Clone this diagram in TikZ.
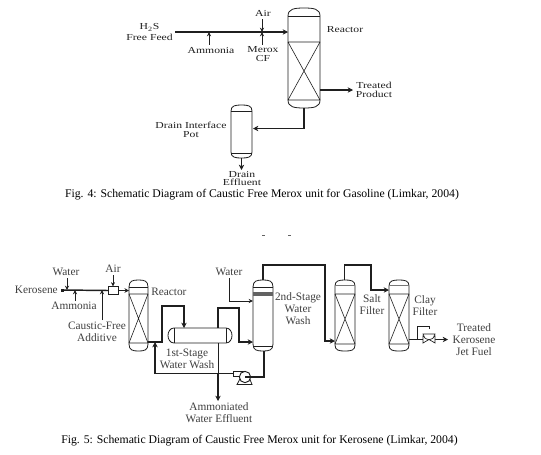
\documentclass[tikz,border=0pt]{standalone}
\usepackage{fontspec}
\setmainfont{Liberation Serif}
\newfontfamily\wideserif[FakeStretch=1.27]{Liberation Serif}
\usetikzlibrary{arrows.meta}
\definecolor{ink}{gray}{0.12}
\tikzset{
  thin line/.style={draw=ink,line width=0.45pt},
  pipe/.style={draw=ink,line width=1.1pt},
  feedarrow/.style={draw=ink,line width=0.7pt,-{Stealth[length=3.2pt,width=3pt]}},
  pipearrow/.style={draw=ink,line width=1.1pt,-{Stealth[length=4pt,width=4pt]}},
  lab/.style={inner sep=0pt,align=center,text=ink,font=\wideserif\fontsize{6.9pt}{6.6pt}\selectfont},
  labw/.style={inner sep=0pt,align=center,text=ink!85,font=\fontsize{8.5pt}{9pt}\selectfont},
  captext/.style={inner sep=0pt,text=black,font=\fontsize{8.8pt}{10pt}\selectfont},
}
% vessel: left x, right x, top y, bottom y, head depth
\newcommand{\vesselshape}[5]{%
  \draw[thin line,line width=0.6pt] (#1,#3+#5) .. controls (#1,#3+0.1*#5) and (#1+0.2*#2-0.2*#1,#3) .. (0.5*#1+0.5*#2,#3)
    .. controls (#2-0.2*#2+0.2*#1,#3) and (#2,#3+0.1*#5) .. (#2,#3+#5) -- (#2,#4-#5)
    .. controls (#2,#4-0.1*#5) and (#2-0.2*#2+0.2*#1,#4) .. (0.5*#1+0.5*#2,#4)
    .. controls (#1+0.2*#2-0.2*#1,#4) and (#1,#4-0.1*#5) .. (#1,#4-#5) -- cycle;
}
% packed bed with cross
\newcommand{\bedshape}[4]{%
  \draw[thin line] (#1,#3) -- (#2,#3) (#1,#4) -- (#2,#4) (#1,#3) -- (#2,#4) (#2,#3) -- (#1,#4);
}
\begin{document}
\begin{tikzpicture}[x=0.75pt,y=-0.75pt]
\useasboundingbox (0,0) rectangle (541,454);
\fill[white] (0,0) rectangle (541,454);

% ===== Fig. 4 =====
\vesselshape{288}{320}{8}{108}{8}
\draw[thin line] (288,16) -- (320,16);
\bedshape{288}{320}{42}{100}
\vesselshape{231}{252}{105}{158}{6}
\draw[thin line] (231,111) -- (252,111) (231,153) -- (252,153);
\coordinate (f4a) at (175,32);
\coordinate (f4b) at (288,32);
\draw[pipearrow] (f4a) -- (f4b);
\coordinate (amm4) at (209,44.5);
\coordinate (amm4e) at (209,32);
\draw[feedarrow] (amm4) -- (amm4e);
\coordinate (air4) at (262,19);
\coordinate (air4e) at (262,32);
\draw[feedarrow] (air4) -- (air4e);
\coordinate (mer4) at (262,44.5);
\draw[feedarrow] (mer4) -- (air4e);
\coordinate (tr4a) at (320,90);
\coordinate (tr4b) at (353,90);
\draw[pipearrow] (tr4a) -- (tr4b);
\coordinate (ra4) at (304,108);
\coordinate (ra4b) at (253,128.5);
\draw[pipearrow] (ra4) |- (ra4b);
\coordinate (d4a) at (241.5,158);
\coordinate (d4b) at (241.5,170);
\draw[pipearrow] (d4a) -- (d4b);

\node[lab,anchor=east] (t1) at (173,32) {H\textsubscript{2}S\\[1.2pt]Free Feed};
\node[lab] (t2) at (211,50) {Ammonia};
\node[lab] (t3) at (263,13.5) {Air};
\node[lab] (t4) at (263,54) {Merox\\CF};
\node[lab] (t5) at (345,30) {Reactor};
\node[lab] (t6) at (374,90) {Treated\\Product};
\node[lab] (t7) at (191,129.5) {Drain Interface\\Pot};
\node[lab] (t8) at (242,178.5) {Drain\\Effluent};
\node[captext] (c4) at (262,195) {Fig. 4: Schematic Diagram of Caustic Free Merox unit for Gasoline (Limkar, 2004)};

% ===== stray marks =====
\draw[draw=ink!70,line width=0.4pt] (262,235) -- (265,235) (288,235) -- (291,235);

% ===== Fig. 5 =====
% reactor
\vesselshape{129}{148}{280}{351}{7}
\draw[thin line] (129,287) -- (148,287);
\bedshape{129}{148}{294}{343}
% drum
\draw[thin line,line width=0.6pt] (174,328) -- (226,328) .. controls (230,328) and (232,332) .. (232,335.5)
  .. controls (232,339) and (230,343) .. (226,343) -- (174,343)
  .. controls (170,343) and (168,339) .. (168,335.5) .. controls (168,332) and (170,328) .. (174,328) -- cycle;
\draw[thin line] (174,328) -- (174,343) (226,328) -- (226,343);
% tower
\vesselshape{253}{273}{280}{351}{7}
\draw[thin line] (253,287) -- (273,287) (253,346) -- (273,346);
\fill[ink!70] (253,291.5) rectangle (273,295.5);
% salt
\vesselshape{335}{355}{280}{351}{6}
\draw[thin line,draw=ink!60] (335,285.5) -- (355,285.5);
\bedshape{335}{355}{294}{344}
% clay
\vesselshape{389}{409}{280}{351}{6}
\draw[thin line,draw=ink!60] (389,285.5) -- (409,285.5);
\bedshape{389}{409}{294}{344}
% mixer box
\node[draw=ink,fill=white,line width=0.6pt,minimum width=7pt,minimum height=5.5pt,inner sep=0pt] (mix) at (113.5,290.5) {};
% feed
\coordinate (k0) at (62,290);
\draw[pipe] (k0) -- (mix.west);
\fill[ink] (61,288.5) rectangle (63.5,291.5);
\coordinate (r5in) at (129,290.5);
\draw[draw=ink,line width=0.8pt,-{Stealth[length=3.4pt,width=3.4pt]}] (mix.east) -- (r5in);
\coordinate (w5) at (67,278);
\coordinate (w5e) at (67,290);
\draw[feedarrow] (w5) -- (w5e);
\coordinate (am5) at (75,301);
\coordinate (am5e) at (75,290);
\draw[feedarrow] (am5) -- (am5e);
\coordinate (cf5) at (102,320);
\coordinate (cf5e) at (102,290);
\draw[feedarrow] (cf5) -- (cf5e);
\coordinate (air5) at (113,275);
\draw[feedarrow] (air5) -- (mix.north -| air5);
% reactor to drum
\coordinate (r5o) at (148,342);
\coordinate (p1) at (162,342);
\coordinate (p2) at (162,306);
\coordinate (p3) at (184,306);
\coordinate (p4) at (184,328);
\draw[pipearrow] (r5o) -- (p1) -- (p2) -- (p3) -- (p4);
% drum to tower
\coordinate (e1) at (218,328);
\coordinate (e2) at (218,308);
\coordinate (e3) at (239,308);
\coordinate (e4) at (239,342);
\coordinate (e5) at (253,342);
\draw[pipearrow] (e1) -- (e2) -- (e3) -- (e4) -- (e5);
% effluent
\coordinate (a1) at (218,343);
\coordinate (a2) at (218,374);
\coordinate (a3) at (218,401);
\draw[draw=ink,line width=0.6pt] (a1) -- (a2);
\draw[pipearrow] (a2) -- (a3);
% pump
\draw[draw=ink,line width=0.6pt,fill=white] (237,384.5) -- (241,377) -- (249,377) -- (252,384.5) -- cycle;
\draw[draw=ink,line width=0.6pt,fill=white] (233,371.5) -- (245,371.5) -- (245,376) -- (233,376) -- cycle;
\node[draw=ink,fill=white,circle,line width=0.7pt,minimum size=8.5pt,inner sep=0pt] (pmp) at (245,377) {};
% recycle
\coordinate (b1) at (233,373.7);
\coordinate (b2) at (155,373.7);
\coordinate (b3) at (155,342);
\draw[pipearrow] (b1) -- (b2) -- (b3);
\coordinate (b4) at (264,351);
\coordinate (b5) at (264,377);
\draw[pipe] (b4) -- (b5) -- (pmp.center);
% water
\coordinate (w6) at (229,278);
\coordinate (w7) at (229,301);
\coordinate (w8) at (253,301);
\draw[feedarrow] (w6) -- (w7) -- (w8);
% tower top to salt
\coordinate (g1) at (263,280);
\coordinate (g2) at (263,265);
\coordinate (g3) at (325,265);
\coordinate (g4) at (325,341);
\coordinate (g5) at (335,341);
\draw[pipearrow] (g1) -- (g2) -- (g3) -- (g4) -- (g5);
% salt to clay
\coordinate (h1) at (344.5,280);
\coordinate (h2) at (344.5,265);
\coordinate (h3) at (371,265);
\coordinate (h4) at (371,290);
\coordinate (h5) at (389,290);
\draw[pipearrow] (h1) -- (h2) -- (h3) -- (h4) -- (h5);
% product + valve
\coordinate (j1) at (409,339.5);
\coordinate (j2) at (448,339.5);
\draw[pipearrow] (j1) -- (j2);
\coordinate (v) at (429,339.5);
\draw[draw=ink,fill=white,line width=0.5pt] (423,336) -- (435,343) -- (435,336) -- (423,343) -- cycle;
\draw[draw=ink,line width=0.5pt] (v) -- (429,334);
\draw[draw=ink,fill=white,line width=0.5pt] (423,334) arc (180:0:6 and 5.5) -- cycle;
\draw[thin line,line width=0.6pt] (417,339.5) -- (417,326) -- (429,326) -- (429,328.5);

\node[labw] (l1) at (66,271.5) {Water};
\node[labw,anchor=east] (l2) at (58,290) {Kerosene};
\node[labw] (l3) at (74,306) {Ammonia};
\node[labw] (l4) at (113,268.5) {Air};
\node[labw] (l5) at (97,332) {Caustic-Free\\Additive};
\node[labw,anchor=west] (l6) at (151,292) {Reactor};
\node[labw] (l7) at (187,359) {1st-Stage\\Water Wash};
\node[labw] (l8) at (229,272) {Water};
\node[labw] (l9) at (298,309) {2nd-Stage\\Water\\Wash};
\node[labw] (l10) at (372,304.5) {Salt\\Filter};
\node[labw] (l11) at (425,306) {Clay\\Filter};
\node[labw] (l12) at (474,340) {Treated\\Kerosene\\Jet Fuel};
\node[labw] (l13) at (219,413) {Ammoniated\\Water Effluent};
\node[captext] (c5) at (259.5,441) {Fig. 5: Schematic Diagram of Caustic Free Merox unit for Kerosene (Limkar, 2004)};
\end{tikzpicture}
\end{document}
